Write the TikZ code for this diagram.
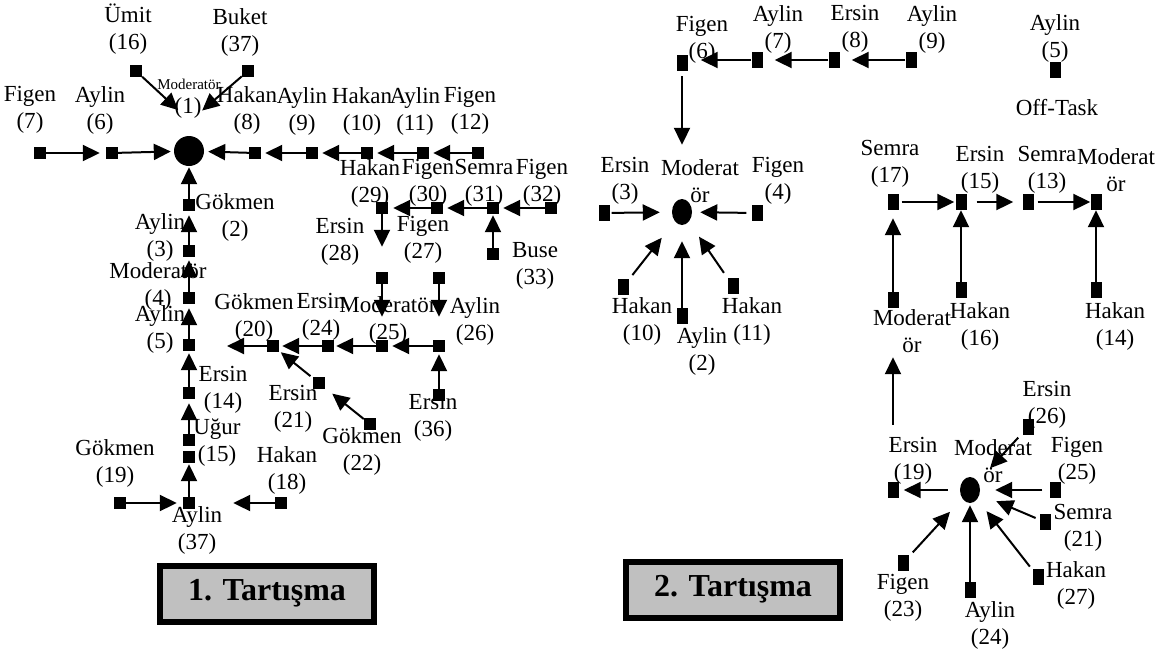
\documentclass[tikz,border=0pt]{standalone}
\usepackage{fontspec}
\setmainfont{Liberation Serif}
\usepackage{tikz}
\usetikzlibrary{arrows.meta,shapes}
\definecolor{boxgray}{RGB}{192,192,192}

\newcommand{\lblsize}{\fontsize{23}{27}\selectfont}

\begin{document}
\begin{tikzpicture}[x=1pt,y=-1pt,font=\lblsize,
  sq/.style={fill,rectangle,inner sep=0pt,minimum size=12pt},
  rq/.style={fill,rectangle,inner sep=0pt,minimum width=11pt,minimum height=16pt},
  lbl/.style={align=center,inner sep=0pt},
  hub/.style={fill,circle,inner sep=0pt,minimum size=30pt},
  hubr/.style={fill,ellipse,inner sep=0pt,minimum width=20pt,minimum height=26pt},
  arr/.style={-{Triangle[length=17pt,width=16pt]},line width=2pt},
  tbox/.style={draw,line width=6pt,fill=boxgray,minimum width=214pt,minimum height=56pt,
    font=\fontsize{32}{36}\selectfont\bfseries}]
  \useasboundingbox (0,0) rectangle (1175,657);

  % ノード（1. Tartışma）
  \node[sq] (Lfigen7) at (40,153) {};
  \node[sq] (Laylin6) at (112,153) {};
  \node[hub] (Lmod1) at (189,151) {};
  \coordinate (Lone) at (190,121);
  \node[sq] (Lumit16) at (136,71) {};
  \node[sq] (Lbuket37) at (248,71) {};
  \node[sq] (Lhakan8) at (255,153) {};
  \node[sq] (Laylin9) at (312,153) {};
  \node[sq] (Lhakan10) at (367,153) {};
  \node[sq] (Laylin11) at (423,153) {};
  \node[sq] (Lfigen12) at (478,153) {};
  \node[sq] (Lhakan29) at (382,208) {};
  \node[sq] (Lfigen30) at (437,208) {};
  \node[sq] (Lsemra31) at (493,208) {};
  \node[sq] (Lfigen32) at (551,208) {};
  \node[sq] (Lbuse33) at (493,254) {};
  \node[sq] (Lersin28) at (382,278) {};
  \node[sq] (Lfigen27) at (439,278) {};
  \node[sq] (Lmod25) at (382,346) {};
  \node[sq] (Laylin26) at (439,346) {};
  \node[sq] (Lersin24) at (328,346) {};
  \node[sq] (Lgokmen20) at (273,346) {};
  \coordinate (Lout) at (227,346);
  \node[sq] (Lersin36) at (439,395) {};
  \node[sq] (Lersin21) at (319,383) {};
  \node[sq] (Lgokmen22) at (370,424) {};
  \node[sq] (Lgokmen2) at (189,205) {};
  \node[sq] (Laylin3) at (189,251) {};
  \node[sq] (Lmod4) at (189,298) {};
  \node[sq] (Laylin5) at (189,345) {};
  \node[sq] (Lersin14) at (189,393) {};
  \node[sq] (Lugur15) at (189,440) {};
  \node[sq] (Lugur15b) at (189,457) {};
  \node[sq] (Laylin37) at (189,503) {};
  \node[sq] (Lgokmen19) at (120,503) {};
  \node[sq] (Lhakan18) at (281,503) {};

  \node[lbl] (tLfigen7) at (30,110) {Figen\\(7)};
  \node[lbl] (tLaylin6) at (100,110) {Aylin\\(6)};
  \node[lbl,font=\fontsize{15}{17}\selectfont] (tLmodname) at (189,84) {Moderatör};
  \node[lbl] (tLmodnum) at (188,108) {(1)};
  \node[lbl] (tLumit16) at (128,29) {Ümit\\(16)};
  \node[lbl] (tLbuket37) at (240,32) {Buket\\(37)};
  \node[lbl] (tLhakan8) at (247,110) {Hakan\\(8)};
  \node[lbl] (tLaylin9) at (302,111) {Aylin\\(9)};
  \node[lbl] (tLhakan10) at (362,111) {Hakan\\(10)};
  \node[lbl] (tLaylin11) at (415,111) {Aylin\\(11)};
  \node[lbl] (tLfigen12) at (470,111) {Figen\\(12)};
  \node[lbl] (tLhakan29) at (370,183) {Hakan\\(29)};
  \node[lbl] (tLfigen30) at (428,183) {Figen\\(30)};
  \node[lbl] (tLsemra31) at (484,183) {Semra\\(31)};
  \node[lbl] (tLfigen32) at (542,183) {Figen\\(32)};
  \node[lbl] (tLersin28) at (340,242) {Ersin\\(28)};
  \node[lbl] (tLfigen27) at (423,240) {Figen\\(27)};
  \node[lbl] (tLbuse33) at (535,266) {Buse\\(33)};
  \node[lbl] (tLgokmen20) at (254,317) {Gökmen\\(20)};
  \node[lbl] (tLersin24) at (321,317) {Ersin\\(24)};
  \node[lbl] (tLmod25) at (388,320) {Moderatör\\(25)};
  \node[lbl] (tLaylin26) at (475,321) {Aylin\\(26)};
  \node[lbl] (tLersin36) at (433,418) {Ersin\\(36)};
  \node[lbl] (tLersin21) at (293,409) {Ersin\\(21)};
  \node[lbl] (tLgokmen22) at (362,451) {Gökmen\\(22)};
  \node[lbl] (tLgokmen2) at (235,217) {Gökmen\\(2)};
  \node[lbl] (tLaylin3) at (160,237) {Aylin\\(3)};
  \node[lbl] (tLmod4) at (158,286) {Moderatör\\(4)};
  \node[lbl] (tLaylin5) at (160,329) {Aylin\\(5)};
  \node[lbl] (tLersin14) at (223,390) {Ersin\\(14)};
  \node[lbl] (tLugur15) at (217,443) {Uğur\\(15)};
  \node[lbl] (tLaylin37) at (197,530) {Aylin\\(37)};
  \node[lbl] (tLgokmen19) at (115,463) {Gökmen\\(19)};
  \node[lbl] (tLhakan18) at (287,470) {Hakan\\(18)};

  % 矢印（1. Tartışma）
  \draw[arr,shorten >=6pt] (Lfigen7) -- (Laylin6);
  \draw[arr,shorten >=3pt] (Laylin6) -- (Lmod1);
  \draw[arr,shorten >=16pt] (Lumit16) -- (Lone);
  \draw[arr,shorten >=16pt] (Lbuket37) -- (Lone);
  \draw[arr,shorten >=4pt] (Lhakan8) -- (Lmod1);
  \draw[arr,shorten >=4pt] (Laylin9) -- (Lhakan8);
  \draw[arr,shorten >=4pt] (Lhakan10) -- (Laylin9);
  \draw[arr,shorten >=4pt] (Laylin11) -- (Lhakan10);
  \draw[arr,shorten >=4pt] (Lfigen12) -- (Laylin11);
  \draw[arr,shorten >=5pt] (Lfigen30) -- (Lhakan29);
  \draw[arr,shorten >=4pt] (Lsemra31) -- (Lfigen30);
  \draw[arr,shorten >=4pt] (Lfigen32) -- (Lsemra31);
  \draw[arr,shorten >=1pt] (Lbuse33) -- (Lsemra31);
  \draw[arr,shorten >=25pt] (Lhakan29) -- (Lersin28);
  \draw[arr,shorten >=23pt] (Lersin28) -- (Lmod25);
  \draw[arr,shorten >=23pt] (Lfigen27) -- (Laylin26);
  \draw[arr,shorten >=4pt] (Laylin26) -- (Lmod25);
  \draw[arr,shorten >=2pt] (Lmod25) -- (Lersin24);
  \draw[arr,shorten >=3pt] (Lersin24) -- (Lgokmen20);
  \draw[arr] (Lgokmen20) -- (Lout);
  \draw[arr,shorten >=2pt] (Lersin36) -- (Laylin26);
  \draw[arr,shorten <=3pt,shorten >=2pt] (Lersin21) -- (Lgokmen20);
  \draw[arr,shorten >=9pt] (Lgokmen22) -- (Lersin21);
  \draw[arr,shorten >=1pt] (Lgokmen2) -- (Lmod1);
  \draw[arr,shorten >=4pt] (Laylin3) -- (Lgokmen2);
  \draw[arr,shorten >=3pt] (Lmod4) -- (Laylin3);
  \draw[arr,shorten >=4pt] (Laylin5) -- (Lmod4);
  \draw[arr,shorten >=2pt] (Lersin14) -- (Laylin5);
  \draw[arr,shorten >=4pt] (Lugur15) -- (Lersin14);
  \draw[arr,shorten >=1pt] (Laylin37) -- (Lugur15b);
  \draw[arr,shorten >=6pt] (Lgokmen19) -- (Laylin37);
  \draw[arr,shorten >=38pt] (Lhakan18) -- (Laylin37);

  \node[tbox] (box1) at (267,593.5) {1. Tartışma};

  % ノード（2. Tartışma）
  \node[rq] (Rfigen6) at (682,63) {};
  \node[rq] (Raylin7) at (757,60) {};
  \node[rq] (Rersin8) at (834,60) {};
  \node[rq] (Raylin9) at (911,60) {};
  \node[hubr] (RmodA) at (682,212) {};
  \node[rq] (Rersin3) at (604,213) {};
  \node[rq] (Rfigen4) at (757,213) {};
  \node[rq] (Rhakan10) at (623,287) {};
  \node[rq] (Raylin2) at (682,316) {};
  \node[rq] (Rhakan11) at (733,286) {};
  \node[rq] (Raylin5) at (1055,70) {};
  \node[rq] (Rsemra17) at (893,202) {};
  \node[rq] (Rersin15) at (961,202) {};
  \node[rq] (Rsemra13) at (1028,202) {};
  \node[rq] (RmodC) at (1096,202) {};
  \node[rq] (RmodB) at (893,300) {};
  \node[rq] (Rhakan16) at (961,290) {};
  \node[rq] (Rhakan14) at (1096,290) {};
  \node[hubr] (RmodD) at (970,490) {};
  \node[rq] (Rersin19) at (893,490) {};
  \node[rq] (Rersin26) at (1028,427) {};
  \node[rq] (Rfigen25) at (1055,490) {};
  \node[rq] (Rsemra21) at (1045,522) {};
  \node[rq] (Rhakan27) at (1038,577) {};
  \node[rq] (Raylin24) at (970,590) {};
  \node[rq] (Rfigen23) at (903,563) {};

  \node[lbl] (tRfigen6) at (702,40) {Figen\\(6)};
  \node[lbl] (tRaylin7) at (778,29) {Aylin\\(7)};
  \node[lbl] (tRersin8) at (855,29) {Ersin\\(8)};
  \node[lbl] (tRaylin9) at (932,29) {Aylin\\(9)};
  \node[lbl] (tRaylin5) at (1055,38) {Aylin\\(5)};
  \node[lbl] (tRofftask) at (1057,108) {Off-Task};
  \node[lbl] (tRmodA) at (700,181) {Moderat\\ör};
  \node[lbl] (tRersin3) at (625,181) {Ersin\\(3)};
  \node[lbl] (tRfigen4) at (778,181) {Figen\\(4)};
  \node[lbl] (tRhakan10) at (642,321) {Hakan\\(10)};
  \node[lbl] (tRaylin2) at (702,351) {Aylin\\(2)};
  \node[lbl] (tRhakan11) at (752,321) {Hakan\\(11)};
  \node[lbl] (tRsemra17) at (890,164) {Semra\\(17)};
  \node[lbl] (tRersin15) at (980,170) {Ersin\\(15)};
  \node[lbl] (tRsemra13) at (1047,170) {Semra\\(13)};
  \node[lbl] (tRmodC) at (1116,170) {Moderat\\ör};
  \node[lbl] (tRmodB) at (912,331) {Moderat\\ör};
  \node[lbl] (tRhakan16) at (980,326) {Hakan\\(16)};
  \node[lbl] (tRhakan14) at (1115,326) {Hakan\\(14)};
  \node[lbl] (tRmodD) at (993,461) {Moderat\\ör};
  \node[lbl] (tRersin19) at (913,461) {Ersin\\(19)};
  \node[lbl] (tRersin26) at (1047,405) {Ersin\\(26)};
  \node[lbl] (tRfigen25) at (1077,461) {Figen\\(25)};
  \node[lbl] (tRsemra21) at (1083,528) {Semra\\(21)};
  \node[lbl] (tRhakan27) at (1076,585) {Hakan\\(27)};
  \node[lbl] (tRaylin24) at (990,625) {Aylin\\(24)};
  \node[lbl] (tRfigen23) at (903,598) {Figen\\(23)};

  % 矢印（2. Tartışma）
  \draw[arr,shorten >=12pt] (Raylin9) -- (Rersin8);
  \draw[arr,shorten >=12pt] (Rersin8) -- (Raylin7);
  \draw[arr,shorten >=13pt] (Raylin7) -- (Raylin7 -| Rfigen6.east);
  \draw[arr,shorten <=5pt,shorten >=54pt] (Rfigen6) -- (RmodA);
  \draw[arr,shorten <=2pt,shorten >=12pt] (Rersin3) -- (RmodA);
  \draw[arr,shorten <=5pt,shorten >=8pt] (Rfigen4) -- (RmodA);
  \draw[arr,shorten <=6pt,shorten >=21pt] (Rhakan10) -- (RmodA);
  \draw[arr,shorten >=16pt] (Raylin2) -- (RmodA);
  \draw[arr,shorten <=6pt,shorten >=18pt] (Rhakan11) -- (RmodA);
  \draw[arr,shorten <=3pt,shorten >=1pt] (Rsemra17) -- (Rersin15);
  \draw[arr,shorten <=10pt,shorten >=9pt] (Rersin15) -- (Rsemra13);
  \draw[arr,shorten <=4pt] (Rsemra13) -- (RmodC);
  \draw[arr,shorten >=8pt] (RmodB) -- (Rsemra17);
  \draw[arr] (Rhakan16) -- (Rersin15);
  \draw[arr] (Rhakan14) -- (RmodC);
  \draw[arr,shorten <=57pt,shorten >=49pt] (Rersin19) -- (RmodB);
  \draw[arr,shorten <=12pt,shorten >=5pt] (RmodD) -- (Rersin19);
  \draw[arr,shorten <=6pt,shorten >=18pt] (Rersin26) -- (RmodD);
  \draw[arr,shorten <=7pt,shorten >=15pt] (Rfigen25) -- (RmodD);
  \draw[arr,shorten <=4pt,shorten >=18pt] (Rsemra21) -- (RmodD);
  \draw[arr,shorten <=4pt,shorten >=15pt] (Rhakan27) -- (RmodD);
  \draw[arr,shorten >=2pt] (Raylin24) -- (RmodD);
  \draw[arr,shorten <=6pt,shorten >=18pt] (Rfigen23) -- (RmodD);

  \node[tbox] (box2) at (733,589.5) {2. Tartışma};
\end{tikzpicture}
\end{document}
